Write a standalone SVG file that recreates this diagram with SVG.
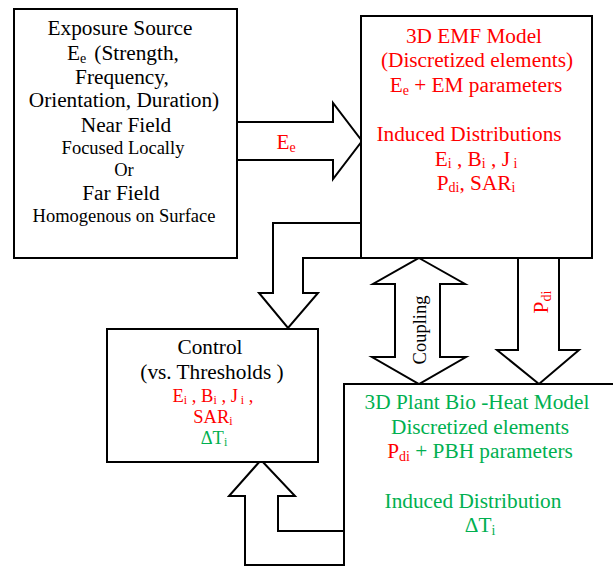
<svg xmlns="http://www.w3.org/2000/svg" width="613" height="566" viewBox="0 0 613 566">
  <style>
    .box { fill: #ffffff; stroke: #000000; stroke-width: 2; }
    .arrow { fill: #ffffff; stroke: #000000; stroke-width: 2; stroke-linejoin: miter; }
    text { font-family: "Liberation Serif", Tinos, "Times New Roman", Times, "DejaVu Serif", serif; text-anchor: middle; }
    .big { font-size: 21.3px; }
    .small { font-size: 18.5px; }
    .blk { fill: #000000; }
    .red { fill: #ff0000; }
    .grn { fill: #00b050; }
  </style>
  <rect width="613" height="566" fill="#ffffff"/>

  <!-- connectors: block arrows between the models -->
  <g id="connectors">
    <!-- exposure field into EMF model -->
    <polyline class="arrow" points="237,122 333,122 333,103 362,141 333,179 333,160 237,160"/>
    <!-- EMF model down to control -->
    <polyline class="arrow" points="361,223 273,223 273,293 259,293 288,328 318,293 303,293 303,258 361,258"/>
    <!-- two-way coupling -->
    <polygon class="arrow" points="419,258 465,284 440,284 440,357 466,357 419,384 372,357 395,357 395,284 373,284"/>
    <!-- dissipated power into bio-heat model -->
    <polyline class="arrow" points="518,258 518,350 497,350 539,384 579,350 559,350 559,258"/>
    <!-- bio-heat model back to control -->
    <polyline class="arrow" points="344,531 278,531 278,496 295,496 261,460 229,496 245,496 245,565 343,565"/>
    <text class="big red" x="286" y="149" font-family="Liberation Serif, serif">E<tspan font-size="14" dy="3">e</tspan></text>
    <text class="small blk" transform="translate(426,330) rotate(-90)" font-family="Liberation Serif, serif">Coupling</text>
    <text class="big red" transform="translate(548,302) rotate(-90)" font-family="Liberation Serif, serif">P<tspan font-size="14" dy="3">di</tspan></text>
  </g>

  <g id="exposure-source" font-family="Liberation Serif, serif">
    <rect class="box" x="14" y="9" width="223" height="249"/>
    <text class="big blk" x="120" y="35">Exposure Source</text>
    <text class="big blk" x="123" y="60">E<tspan font-size="14" dy="3">e</tspan><tspan dy="-3" dx="8">(Strength,</tspan></text>
    <text class="big blk" x="122" y="84">Frequency,</text>
    <text class="big blk" x="124" y="107">Orientation, Duration)</text>
    <text class="big blk" x="126" y="132">Near Field</text>
    <text class="small blk" x="123" y="154">Focused Locally</text>
    <text class="small blk" x="124" y="176">Or</text>
    <text class="big blk" x="121" y="200">Far Field</text>
    <text class="small blk" x="124" y="222">Homogenous on Surface</text>
  </g>

  <g id="emf-model">
    <rect class="box" x="361" y="16" width="231" height="242"/>
    <text class="big red" x="474" y="43">3D EMF Model</text>
    <text class="big red" x="477" y="67">(Discretized elements)</text>
    <text class="big red" x="476" y="92">E<tspan font-size="14" dy="3">e</tspan><tspan dy="-3"> + EM parameters</tspan></text>
    <text class="big red" x="469" y="141">Induced Distributions</text>
    <text class="big red" x="476" y="166">E<tspan font-size="14" dy="2">i</tspan><tspan dy="-2"> , B</tspan><tspan font-size="14" dy="2">i</tspan><tspan dy="-2"> , J</tspan><tspan font-size="14" dy="2"> i</tspan></text>
    <text class="big red" x="476" y="190">P<tspan font-size="14" dy="2">di</tspan><tspan dy="-2">, SAR</tspan><tspan font-size="14" dy="2">i</tspan></text>
  </g>

  <g id="control">
    <rect class="box" x="107" y="329" width="211" height="133"/>
    <text class="big blk" x="210" y="354">Control</text>
    <text class="big blk" x="212" y="379">(vs. Thresholds )</text>
    <text class="small red" x="213" y="402">E<tspan font-size="12" dy="2">i</tspan><tspan dy="-2"> , B</tspan><tspan font-size="12" dy="2">i</tspan><tspan dy="-2"> , J</tspan><tspan font-size="12" dy="2"> i</tspan><tspan dy="-2"> ,</tspan></text>
    <text class="small red" x="213" y="423">SAR<tspan font-size="12" dy="2">i</tspan></text>
    <text class="small grn" x="214" y="444">ΔT<tspan font-size="12" dy="2">i</tspan></text>
  </g>

  <g id="bio-heat-model">
    <rect class="box" x="344" y="384" width="300" height="220"/>
    <text class="big grn" x="477" y="409">3D Plant Bio -Heat Model</text>
    <text class="big grn" x="480" y="434">Discretized elements</text>
    <text class="big grn" x="480" y="458"><tspan class="red">P</tspan><tspan class="red" font-size="14" dy="3">di</tspan><tspan dy="-3"> + PBH parameters</tspan></text>
    <text class="big grn" x="473" y="508">Induced Distribution</text>
    <text class="big grn" x="480" y="532">ΔT<tspan font-size="14" dy="3">i</tspan></text>
  </g>
</svg>
